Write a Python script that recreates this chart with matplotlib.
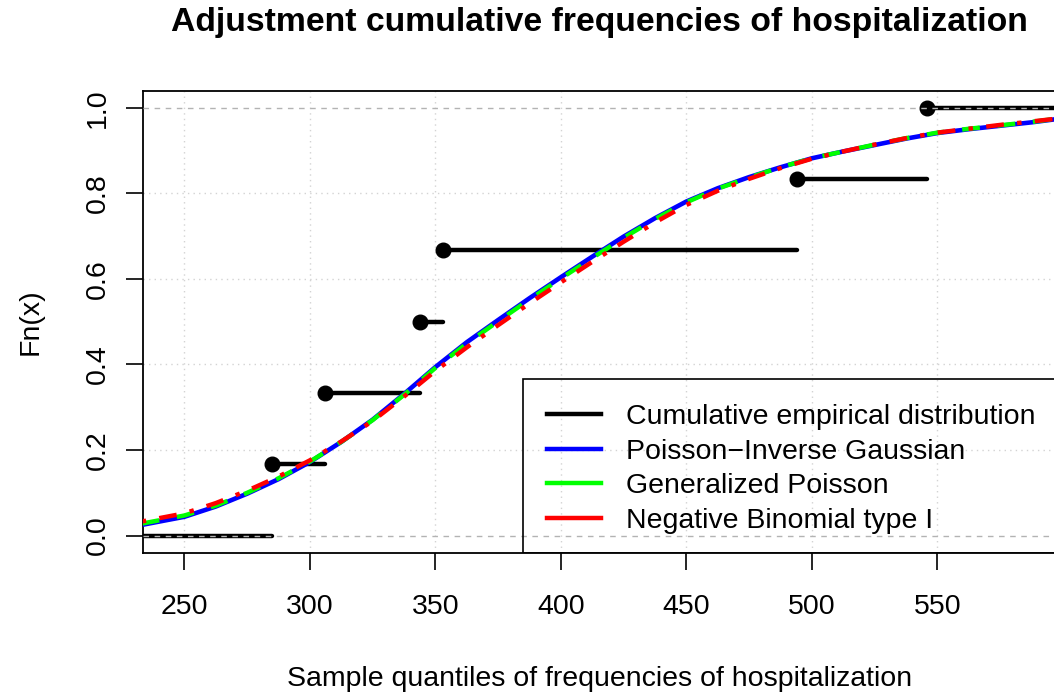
import matplotlib
matplotlib.use("Agg")
import matplotlib.pyplot as plt
from matplotlib.patches import Rectangle

plt.rcParams['font.family'] = ['Liberation Sans', 'DejaVu Sans']

# observed hospitalization frequencies (ecdf jump points)
sample = [285, 306, 344, 353, 494, 546]

# fitted cumulative distributions evaluated on a grid
grid_x = [233, 250, 262.5, 275, 287.5, 300, 312.5, 325, 337.5, 350, 362.5, 375,
          387.5, 400, 412.5, 425, 437.5, 450, 462.5, 475, 487.5, 500, 512.5, 525,
          537.5, 550, 562.5, 575, 587.5, 598]
cdf_pig = [0.025, 0.044, 0.068, 0.098, 0.132, 0.172, 0.219, 0.271, 0.331, 0.394,
           0.452, 0.504, 0.555, 0.604, 0.652, 0.699, 0.742, 0.781, 0.812, 0.838,
           0.861, 0.882, 0.898, 0.913, 0.928, 0.941, 0.950, 0.958, 0.966, 0.974]
cdf_gp = [0.028, 0.047, 0.070, 0.100, 0.134, 0.173, 0.219, 0.270, 0.329, 0.392,
          0.449, 0.501, 0.552, 0.601, 0.649, 0.696, 0.740, 0.779, 0.811, 0.837,
          0.861, 0.882, 0.898, 0.914, 0.929, 0.942, 0.951, 0.959, 0.967, 0.975]
cdf_nb1 = [0.033, 0.052, 0.076, 0.105, 0.138, 0.176, 0.220, 0.268, 0.325, 0.385,
           0.440, 0.492, 0.543, 0.592, 0.640, 0.687, 0.732, 0.773, 0.806, 0.834,
           0.859, 0.881, 0.898, 0.914, 0.929, 0.942, 0.951, 0.960, 0.968, 0.975]

legend_labels = ["Cumulative empirical distribution", "Poisson\u2212Inverse Gaussian",
                 "Generalized Poisson", "Negative Binomial type I"]
legend_colors = ['black', 'blue', '#00ff00', 'red']

xmin, xmax = 233.5, 597.7
n = len(sample)
fn = [(i + 1) / n for i in range(n)]
fs = 20.5

fig = plt.figure(figsize=(10.54, 6.94), dpi=100)
ax = fig.add_axes([0.1357, 0.2036, 0.8672, 0.6657])
ax.set_xlim(xmin, xmax)
ax.set_ylim(-0.04, 1.04)

# grid
for gx in [250, 300, 350, 400, 450, 500, 550]:
    ax.axvline(gx, color='lightgray', ls=(0, (1, 3)), lw=1.0, zorder=0)
for gy in [0.2, 0.4, 0.6, 0.8]:
    ax.axhline(gy, color='lightgray', ls=(0, (1, 3)), lw=1.0, zorder=0)

# empirical step function
xs = [xmin] + sample
ys = [0.0] + fn
ends = sample + [xmax]
for x0, x1, y in zip(xs, ends, ys):
    ax.plot([x0, x1], [y, y], color='black', lw=3.2, solid_capstyle='round', zorder=2)
ax.plot(sample, fn, 'o', color='black', ms=10.5, zorder=3)

for gy in [0.0, 1.0]:
    ax.axhline(gy, color='#b3b3b3', ls=(0, (4, 4)), lw=1.0, zorder=4)

# fitted distributions
ax.plot(grid_x, cdf_pig, color='blue', lw=3.3, zorder=5)
ax.plot(grid_x, cdf_gp, color='#00ff00', lw=3.2, ls=(0, (4, 4)), zorder=6)
ax.plot(grid_x, cdf_nb1, color='red', lw=3.2, ls=(0, (1, 3, 4, 3)), zorder=7)

ax.set_xticks([250, 300, 350, 400, 450, 500, 550])
ax.set_yticks([0.0, 0.2, 0.4, 0.6, 0.8, 1.0])
ax.set_yticklabels(["0.0", "0.2", "0.4", "0.6", "0.8", "1.0"], rotation=90, va='center')
ax.tick_params(direction='out', length=12, width=1.2, labelsize=fs)
ax.tick_params(axis='x', pad=18)
ax.tick_params(axis='y', pad=11)
for s in ax.spines.values():
    s.set_linewidth(1.3)

ax.set_xlabel("Sample quantiles of frequencies of hospitalization", fontsize=fs, labelpad=33)
ax.set_ylabel("Fn(x)", fontsize=fs, labelpad=30)
fig.text(0.569, 0.968, "Adjustment cumulative frequencies of hospitalization",
         ha='center', va='center', fontsize=24.3, fontweight='bold')

# legend box in the lower right corner
ax.add_patch(Rectangle((0.4158, 0.0), 0.7, 0.3766, transform=ax.transAxes,
                       fill=False, edgecolor='black', lw=1.2, zorder=8))
rows_y = [0.3002, 0.2245, 0.150, 0.0758]
for label, color, ry in zip(legend_labels, legend_colors, rows_y):
    ax.plot([0.442, 0.501], [ry, ry], color=color, lw=3.2, transform=ax.transAxes, zorder=8)
    ax.text(0.5284, ry, label, transform=ax.transAxes, fontsize=fs,
            va='center_baseline', ha='left', zorder=8)

fig.savefig("out.png", dpi=100)
